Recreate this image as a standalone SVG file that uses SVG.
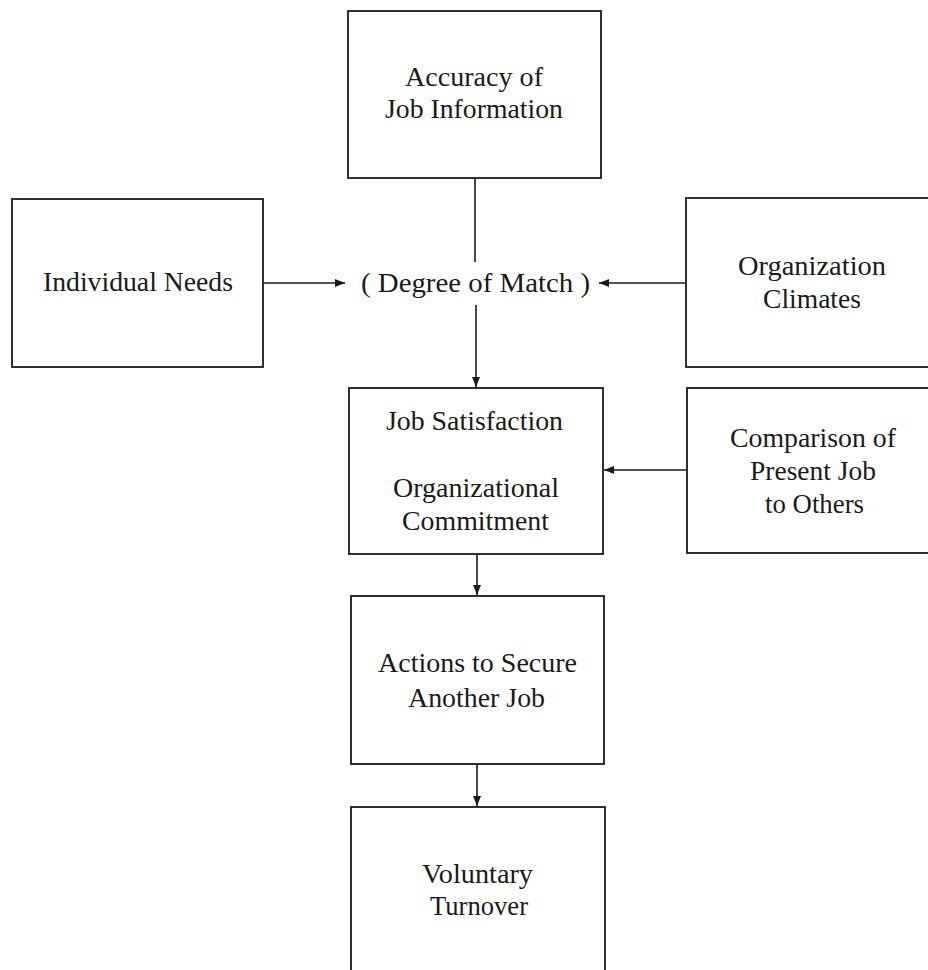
<svg xmlns="http://www.w3.org/2000/svg" width="928" height="970" viewBox="0 0 928 970">
<defs>
<marker id="ah" viewBox="0 0 10 10" refX="10" refY="5" markerWidth="10" markerHeight="10" markerUnits="userSpaceOnUse" orient="auto">
<path d="M0,1 L10,5 L0,9 Z" fill="#1a1a1a"/>
</marker>
<style>
.box{fill:#fff;stroke:#1a1a1a;stroke-width:1.8}
.t{font-family:"Liberation Serif","Times New Roman",serif;font-size:27px;fill:#1a1a1a;text-anchor:middle}
.c{stroke:#1a1a1a;stroke-width:1.6;fill:none}
</style>
</defs>
<rect width="928" height="970" fill="#fff"/>
<g id="connectors">
<line class="c" x1="475" y1="178" x2="475" y2="262"/>
<line class="c" x1="476" y1="305" x2="476" y2="387" marker-end="url(#ah)"/>
<line class="c" x1="263" y1="283" x2="345" y2="283" marker-end="url(#ah)"/>
<line class="c" x1="686" y1="283" x2="599" y2="283" marker-end="url(#ah)"/>
<line class="c" x1="687" y1="470" x2="604" y2="470" marker-end="url(#ah)"/>
<line class="c" x1="477" y1="554" x2="477" y2="595" marker-end="url(#ah)"/>
<line class="c" x1="477" y1="764" x2="477" y2="806" marker-end="url(#ah)"/>
</g>
<g id="accuracy">
<rect class="box" x="348" y="11" width="253" height="167"/>
<text class="t" x="474" y="86" textLength="138" lengthAdjust="spacingAndGlyphs">Accuracy of</text>
<text class="t" x="474" y="118" textLength="178" lengthAdjust="spacingAndGlyphs">Job Information</text>
</g>
<g id="needs">
<rect class="box" x="12" y="199" width="251" height="168"/>
<text class="t" x="138" y="291" textLength="190" lengthAdjust="spacingAndGlyphs">Individual Needs</text>
</g>
<g id="match">
<text class="t" x="475.5" y="292" textLength="229" lengthAdjust="spacingAndGlyphs">( Degree of Match )</text>
</g>
<g id="climates">
<rect class="box" x="686" y="198" width="260" height="169"/>
<text class="t" x="812" y="275" textLength="148" lengthAdjust="spacingAndGlyphs">Organization</text>
<text class="t" x="812" y="308" textLength="98" lengthAdjust="spacingAndGlyphs">Climates</text>
</g>
<g id="satisfaction">
<rect class="box" x="349" y="388" width="254" height="166"/>
<text class="t" x="474.5" y="430" textLength="177" lengthAdjust="spacingAndGlyphs">Job Satisfaction</text>
<text class="t" x="476" y="497" textLength="166" lengthAdjust="spacingAndGlyphs">Organizational</text>
<text class="t" x="475.5" y="530" textLength="147" lengthAdjust="spacingAndGlyphs">Commitment</text>
</g>
<g id="comparison">
<rect class="box" x="687" y="388" width="260" height="165"/>
<text class="t" x="813" y="447" textLength="166" lengthAdjust="spacingAndGlyphs">Comparison of</text>
<text class="t" x="813" y="480" textLength="126" lengthAdjust="spacingAndGlyphs">Present Job</text>
<text class="t" x="814.5" y="513" textLength="99" lengthAdjust="spacingAndGlyphs">to Others</text>
</g>
<g id="actions">
<rect class="box" x="351" y="596" width="253" height="168"/>
<text class="t" x="477.5" y="672" textLength="199" lengthAdjust="spacingAndGlyphs">Actions to Secure</text>
<text class="t" x="476.5" y="707" textLength="137" lengthAdjust="spacingAndGlyphs">Another Job</text>
</g>
<g id="turnover">
<rect class="box" x="351" y="807" width="254" height="180"/>
<text class="t" x="477.5" y="883" textLength="111" lengthAdjust="spacingAndGlyphs">Voluntary</text>
<text class="t" x="479" y="915" textLength="98" lengthAdjust="spacingAndGlyphs">Turnover</text>
</g>
</svg>
